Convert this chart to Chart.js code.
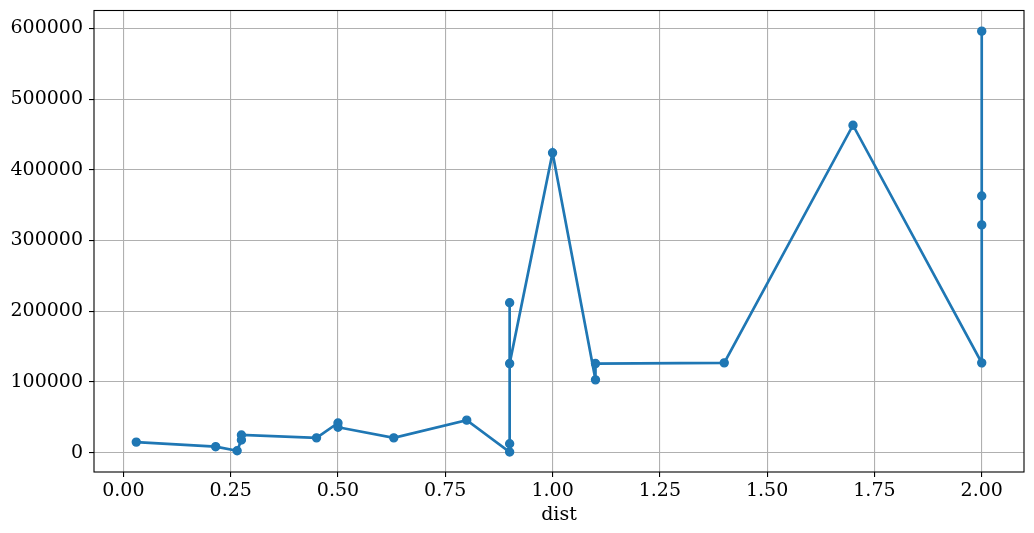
<!DOCTYPE html>
<html lang="en">
<head>
    <meta charset="UTF-8">
    <title>dist chart</title>
    <script src="https://cdn.jsdelivr.net/npm/chart.js"></script>
    <style>
        body { margin: 0; padding: 0; background: #fff; }
        .container { width: 1034px; height: 533px; }
    </style>
</head>
<body>
    <div class="container">
        <canvas id="graphCanvas" width="1034" height="533"></canvas>
    </div>

    <script>
        // values, in the order the line visits them
        const dist = [0.03, 0.215, 0.265, 0.275, 0.275, 0.45, 0.5, 0.5, 0.63, 0.8,
                      0.9, 0.9, 0.9, 0.9, 1.0, 1.1, 1.1, 1.4, 1.7, 2.0, 2.0, 2.0, 2.0];
        const values = [15000, 8500, 2800, 18000, 25000, 21000, 42000, 36000, 21000, 46000,
                        1000, 12700, 212000, 126000, 424000, 103000, 126000, 127000, 463000,
                        127000, 363000, 322000, 596000];
        const xTicks = [0, 0.25, 0.5, 0.75, 1.0, 1.25, 1.5, 1.75, 2.0];
        const yTicks = [0, 100000, 200000, 300000, 400000, 500000, 600000];

        // frame round the plot area, like matplotlib's spines
        const frame = {
            id: 'frame',
            afterDraw(chart) {
                const { ctx, chartArea: a } = chart;
                ctx.save();
                ctx.strokeStyle = '#000';
                ctx.lineWidth = 1.1;
                ctx.strokeRect(a.left, a.top, a.right - a.left, a.bottom - a.top);
                ctx.restore();
            }
        };

        Chart.defaults.font.family = '"DejaVu Serif", serif';
        Chart.defaults.font.size = 19;
        Chart.defaults.color = '#000';

        const ctx = document.getElementById('graphCanvas').getContext('2d');
        new Chart(ctx, {
            type: 'scatter',
            data: {
                datasets: [{
                    data: dist.map((d, i) => ({ x: d, y: values[i] })),
                    showLine: true,
                    borderColor: '#1f77b4',
                    backgroundColor: '#1f77b4',
                    borderWidth: 2.7,
                    pointRadius: 4,
                    pointBorderWidth: 1.4,
                    pointHoverRadius: 4
                }]
            },
            options: {
                responsive: false,
                animation: false,
                layout: { padding: { top: 10.5, right: 10, left: 0, bottom: 0 } },
                plugins: {
                    legend: { display: false },
                    tooltip: { enabled: false }
                },
                scales: {
                    x: {
                        type: 'linear',
                        min: -0.0685,
                        max: 2.0985,
                        afterBuildTicks: s => { s.ticks = xTicks.map(v => ({ value: v })); },
                        afterFit: s => { s.height = 61; s.paddingLeft = 0; s.paddingRight = 0; },
                        ticks: {
                            padding: 3,
                            maxRotation: 0,
                            callback: v => v.toFixed(2)
                        },
                        grid: { color: '#b0b0b0', lineWidth: 1.1, tickColor: '#000', tickLength: 5 },
                        border: { display: false },
                        title: { display: true, text: 'dist', padding: { top: 0, bottom: 7 } }
                    },
                    y: {
                        min: -27300,
                        max: 625200,
                        afterBuildTicks: s => { s.ticks = yTicks.map(v => ({ value: v })); },
                        afterFit: s => { s.width = 94; s.paddingTop = 0; s.paddingBottom = 0; },
                        ticks: {
                            padding: 6,
                            callback: v => String(v)
                        },
                        grid: { color: '#b0b0b0', lineWidth: 1.1, tickColor: '#000', tickLength: 5 },
                        border: { display: false }
                    }
                }
            },
            plugins: [frame]
        });
    </script>
</body>
</html>
